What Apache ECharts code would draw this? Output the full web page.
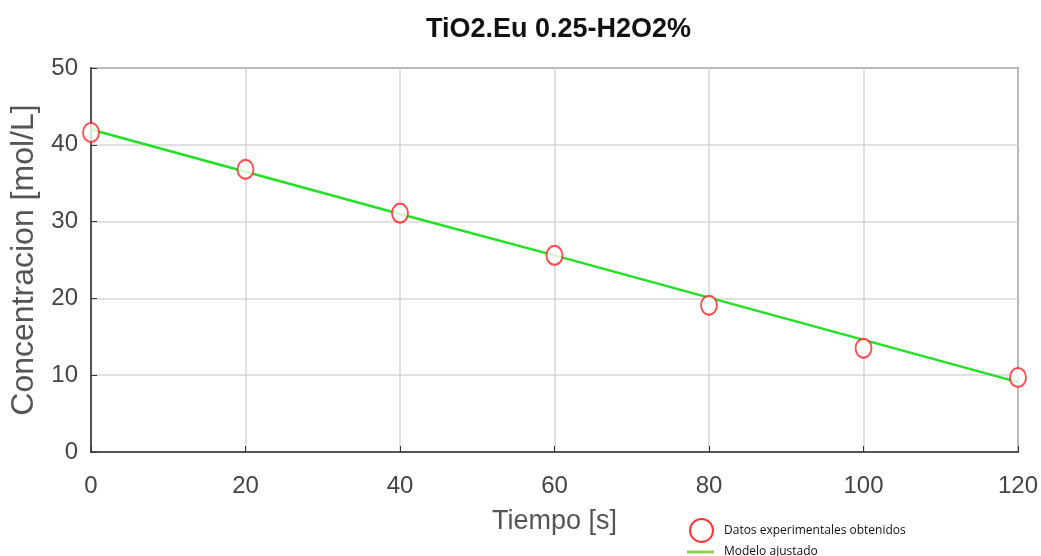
<!DOCTYPE html>
<html>
<head>
<meta charset="utf-8">
<script src="https://cdn.jsdelivr.net/npm/echarts@6/dist/echarts.min.js"></script>
<style>
  html, body { margin: 0; padding: 0; background: #fff; }
  #chart { width: 1041px; height: 556px; }
</style>
</head>
<body>
<div id="chart"></div>
<script>
// Time samples [s]
const tiempo = [0, 20, 40, 60, 80, 100, 120];
// Measured concentration [mol/L]
const datosExperimentales = [41.6, 36.8, 31.1, 25.6, 19.1, 13.5, 9.7];
// Fitted linear model evaluated at the same times
const modeloAjustado = [42.0, 36.5, 31.0, 25.6, 20.1, 14.6, 9.1];
const xTicks = [0, 20, 40, 60, 80, 100, 120];
const yTicks = [0, 10, 20, 30, 40, 50];

const chart = echarts.init(document.getElementById('chart'), null, { renderer: 'canvas' });

const axisFont = 'Liberation Sans, Arial, sans-serif';
const legendFont = 'Open Sans, sans-serif';

chart.setOption({
  backgroundColor: '#ffffff',
  animation: false,
  title: {
    text: 'TiO2.Eu 0.25-H2O2%',
    left: 421,
    top: 11,
    textStyle: { fontFamily: axisFont, fontWeight: 'bold', fontSize: 27, color: '#111' }
  },
  legend: [
    {
      left: 684,
      top: 513,
      itemWidth: 25,
      itemHeight: 23,
      textStyle: { fontFamily: legendFont, fontSize: 12, color: '#111', padding: [0, 0, 0, 5] },
      data: [
        { name: 'Datos experimentales obtenidos', icon: 'circle',
          itemStyle: { color: 'transparent', borderColor: '#ff0000', borderWidth: 2 } }
      ]
    },
    {
      left: 682,
      top: 541,
      itemWidth: 27,
      itemHeight: 3,
      textStyle: { fontFamily: legendFont, fontSize: 12, color: '#111', padding: [0, 0, 0, 5] },
      data: [
        { name: 'Modelo ajustado', icon: 'rect',
          itemStyle: { color: '#92d050', borderWidth: 0 } }
      ]
    }
  ],
  grid: {
    left: 91, right: 22, top: 68, bottom: 104,
    show: true, borderColor: '#333', borderWidth: 1.5, backgroundColor: '#fff'
  },
  xAxis: {
    type: 'value',
    min: xTicks[0], max: xTicks[xTicks.length - 1], interval: 20,
    name: 'Tiempo [s]',
    nameLocation: 'middle',
    nameGap: 56,
    nameTextStyle: { fontFamily: axisFont, fontSize: 27, color: '#555' },
    axisLine: { show: true, lineStyle: { color: '#333', width: 1.5 } },
    axisTick: { show: true, inside: true, length: 6, lineStyle: { color: '#333' } },
    axisLabel: { fontFamily: axisFont, fontSize: 24, color: '#444', margin: 22 },
    splitLine: { show: true, lineStyle: { color: '#d6d6d6', width: 1.5 } }
  },
  yAxis: {
    type: 'value',
    min: yTicks[0], max: yTicks[yTicks.length - 1], interval: 10,
    name: 'Concentracion [mol/L]',
    nameLocation: 'middle',
    nameGap: 50,
    nameTextStyle: { fontFamily: axisFont, fontSize: 32, color: '#555' },
    axisLine: { show: true, lineStyle: { color: '#333', width: 1.5 } },
    axisTick: { show: true, inside: true, length: 6, lineStyle: { color: '#333' } },
    axisLabel: { fontFamily: axisFont, fontSize: 24, color: '#444', margin: 13 },
    splitLine: { show: true, lineStyle: { color: '#d6d6d6', width: 1.5 } }
  },
  series: [
    {
      name: 'Modelo ajustado',
      type: 'line',
      data: tiempo.map((t, i) => [t, modeloAjustado[i]]),
      showSymbol: false,
      lineStyle: { color: '#22e022', width: 2.5 },
      itemStyle: { color: '#92d050' },
      z: 2
    },
    {
      name: 'Datos experimentales obtenidos',
      type: 'scatter',
      data: tiempo.map((t, i) => [t, datosExperimentales[i]]),
      symbol: 'emptyCircle',
      symbolSize: [16, 19],
      itemStyle: { color: '#ff2020', borderColor: '#ff2020', borderWidth: 2 },
      z: 3
    }
  ]
});
</script>
</body>
</html>
